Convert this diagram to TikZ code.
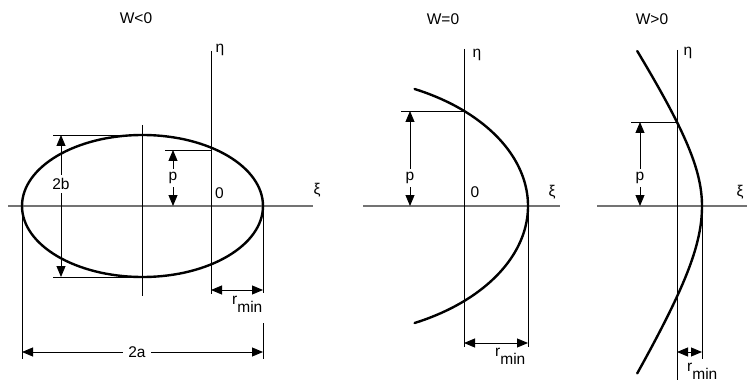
\documentclass[tikz,border=0pt]{standalone}
\usepackage{fontspec}
\setmainfont{Liberation Sans}
\usetikzlibrary{arrows.meta}
\begin{document}
\begin{tikzpicture}[x=1pt,y=-1pt,
  lbl/.style={font=\fontsize{15.5}{18}\selectfont, inner sep=1pt},
  guide/.style={line width=0.9pt, black},
  axisx/.style={line width=1.4pt, black!55},
  curve/.style={line width=2.4pt, line cap=round},
  dim/.style={line width=0.9pt, {Triangle[length=11pt,width=9pt]}-{Triangle[length=11pt,width=9pt]}},
  gap/.style={lbl, fill=white, inner ysep=3pt, inner xsep=2pt}
]
\useasboundingbox (0,0) rectangle (747,385);
% ---------------- Panel 1 : W<0 ----------------
\node[lbl] (t1) at (136,18) {W<0};
\draw[axisx] (8,206) -- (313,206);
\draw[guide] (211,51) coordinate (e1top) -- (211,294) coordinate (e1bot);
\draw[guide] (142.5,125) -- (142.5,296);
\draw[guide] (53,135) coordinate (b1t) -- (142,135);
\draw[guide] (53,277) coordinate (b1b) -- (142,277);
\draw[guide] (165,150) -- (211,150);
\draw[guide] (22,206) -- (22,359);
\draw[guide] (263,206) -- (263,293);
\draw[guide] (263,323) -- (263,359);
\draw[curve] (142.5,206) ellipse [x radius=120.5, y radius=71];
\coordinate (b1u) at (61,135); \coordinate (b1d) at (61,277);
\draw[dim] (b1u) -- (b1d);
\node[gap] (l2b) at (61,184) {2b};
\coordinate (p1u) at (173,150); \coordinate (p1d) at (173,206);
\draw[dim] (p1u) -- (p1d);
\node[gap] (lp1) at (173,178) {p};
\coordinate (r1l) at (211,290); \coordinate (r1r) at (263,290);
\draw[dim] (r1l) -- (r1r);
\node[lbl, anchor=base west] (lr1) at (231,304) {r\raisebox{-0.55em}{min}};
\coordinate (a1l) at (22,352); \coordinate (a1r) at (263,352);
\draw[dim] (a1l) -- (a1r);
\node[gap, inner xsep=5pt] (l2a) at (137,352) {2a};
\node[lbl] (eta1) at (220,50) {η};
\node[lbl] (xi1) at (317,190) {ξ};
\node[lbl] (o1) at (219.5,193) {0};
% ---------------- Panel 2 : W=0 ----------------
\node[lbl] (t2) at (443,19) {W=0};
\draw[axisx] (363,206) -- (560,206);
\draw[guide] (464,49) -- (464,347);
\draw[guide] (401,111) -- (464,111);
\draw[guide] (528,206) -- (528,347);
\draw[curve] plot[domain=-117:117, samples=120, variable=\t]
  ({528-201*(1-sqrt(1-(\t/130)^2))},{206+\t});
\coordinate (p2u) at (410,111); \coordinate (p2d) at (410,206);
\draw[dim] (p2u) -- (p2d);
\node[gap] (lp2) at (410,178) {p};
\coordinate (r2l) at (464,343); \coordinate (r2r) at (528,343);
\draw[dim] (r2l) -- (r2r);
\node[lbl, anchor=base west] (lr2) at (494,356) {r\raisebox{-0.55em}{min}};
\node[lbl] (eta2) at (477,55) {η};
\node[lbl] (xi2) at (552,192) {ξ};
\node[lbl] (o2) at (475,192) {0};
% ---------------- Panel 3 : W>0 ----------------
\node[lbl] (t3) at (652,19) {W>0};
\draw[axisx] (597,206) -- (747,206);
\draw[guide] (677,50) -- (677,380);
\draw[guide] (631,122) -- (677,122);
\draw[guide] (702,206) -- (702,359);
\draw[curve] plot[domain=-155:0, samples=80, variable=\t]
  ({702-50*(sqrt(1+(\t/75)^2)-1)},{206+\t})
  -- plot[domain=0:155, samples=80, variable=\t]
  ({702-50*(sqrt(1+(\t/75)^2)-1)},{206+1.08*\t});
\coordinate (p3u) at (640,122); \coordinate (p3d) at (640,206);
\draw[dim] (p3u) -- (p3d);
\node[gap] (lp3) at (640,178) {p};
\coordinate (r3l) at (677,352); \coordinate (r3r) at (702,352);
\draw[dim] (r3l) -- (r3r);
\node[lbl, anchor=base west] (lr3) at (686,371) {r\raisebox{-0.55em}{min}};
\node[lbl] (eta3) at (688,53) {η};
\node[lbl] (xi3) at (740,192) {ξ};
\end{tikzpicture}
\end{document}
